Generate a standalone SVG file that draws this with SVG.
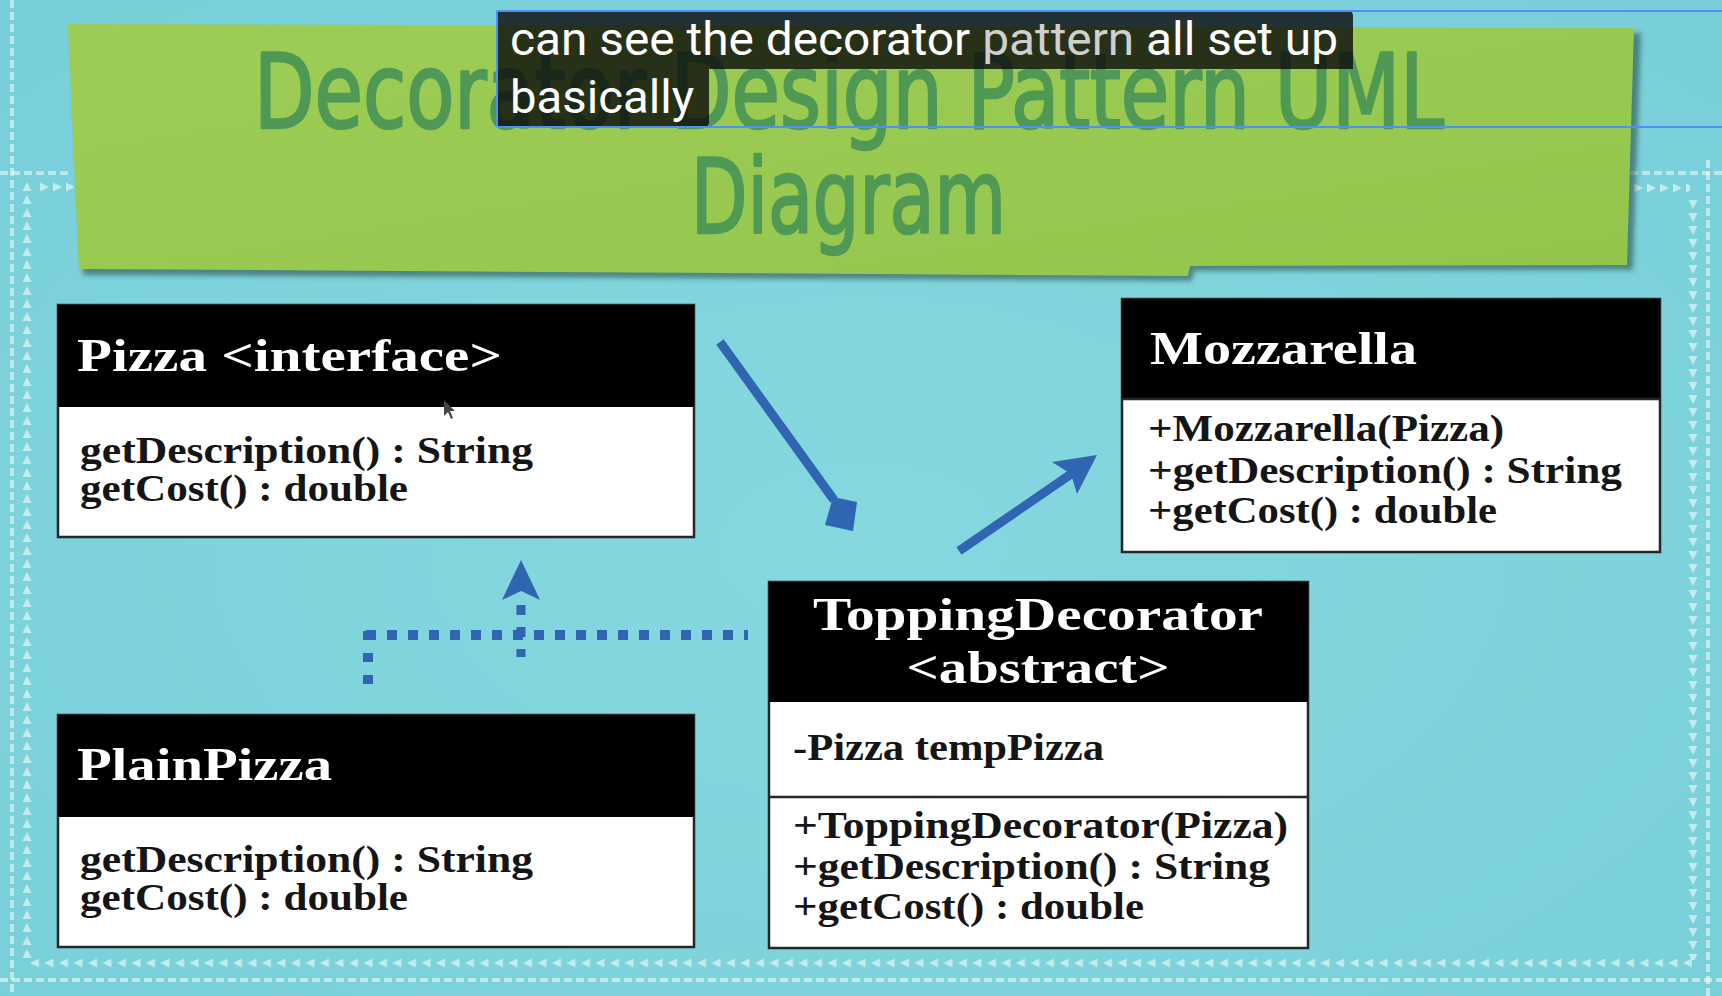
<svg xmlns="http://www.w3.org/2000/svg" width="1722" height="996" viewBox="0 0 1722 996">
  <style>
    .deco { stroke: rgba(255,255,255,0.5); stroke-width: 4; stroke-dasharray: 8 4; fill: none; }
    .hdr { fill: #000; }
    .body { fill: #fff; stroke: #262626; stroke-width: 2.5; }
    .div { stroke: #262626; stroke-width: 2.5; }
    .ht { font-family: "Liberation Serif", "DejaVu Serif", serif; font-weight: bold; font-size: 46px; fill: #fff; }
    .bt { font-family: "Liberation Serif", "DejaVu Serif", serif; font-weight: bold; font-size: 38px; fill: #151515; }
    .title { font-family: "DejaVu Sans Condensed", "DejaVu Sans", sans-serif; font-weight: normal; font-size: 104px; fill: #4f9955; stroke: #4f9955; stroke-width: 2.5; stroke-linejoin: round; }
    .cap { font-family: Roboto, "Noto Sans", sans-serif; font-size: 47px; fill: #fff; }
    .conn { stroke: #2f65b1; fill: none; }
  </style>
  <defs>
    <linearGradient id="green" x1="0" y1="0" x2="1" y2="1">
      <stop offset="0" stop-color="#9ecd56"/>
      <stop offset="1" stop-color="#93c54b"/>
    </linearGradient>
    <radialGradient id="bg" cx="0.5" cy="0.55" r="0.75">
      <stop offset="0" stop-color="#86d8df"/>
      <stop offset="1" stop-color="#78cfd9"/>
    </radialGradient>
    <filter id="blur" x="-5%" y="-10%" width="110%" height="130%">
      <feGaussianBlur stdDeviation="2.5"/>
    </filter>
    <pattern id="tu" patternUnits="userSpaceOnUse" x="22" y="180" width="10" height="13">
      <polygon points="5,2 9.5,11 0.5,11" fill="rgba(255,255,255,0.55)"/>
    </pattern>
    <pattern id="tdn" patternUnits="userSpaceOnUse" x="1688" y="198" width="10" height="13">
      <polygon points="0.5,2 9.5,2 5,11" fill="rgba(255,255,255,0.55)"/>
    </pattern>
    <pattern id="tl" patternUnits="userSpaceOnUse" x="28" y="958" width="14.5" height="10">
      <polygon points="2,5 11,0.5 11,9.5" fill="rgba(255,255,255,0.55)"/>
    </pattern>
    <pattern id="tr1" patternUnits="userSpaceOnUse" x="38" y="182" width="13" height="10">
      <polygon points="2,0.5 11,5 2,9.5" fill="rgba(255,255,255,0.55)"/>
    </pattern>
    <pattern id="tr2" patternUnits="userSpaceOnUse" x="1632" y="183" width="13" height="10">
      <polygon points="2,0.5 11,5 2,9.5" fill="rgba(255,255,255,0.55)"/>
    </pattern>
  </defs>

  <!-- background -->
  <rect x="0" y="0" width="1722" height="996" fill="url(#bg)"/>

  <!-- decorative border -->
  <g id="border">
    <line class="deco" x1="12" y1="0" x2="12" y2="996"/>
    <line class="deco" x1="0" y1="173" x2="72" y2="173"/>
    <line class="deco" x1="1708" y1="160" x2="1708" y2="996"/>
    <line class="deco" x1="1630" y1="173" x2="1722" y2="173"/>
    <line class="deco" x1="0" y1="980" x2="1722" y2="980"/>
    <rect x="22" y="180" width="10" height="780" fill="url(#tu)"/>
    <rect x="1688" y="198" width="10" height="762" fill="url(#tdn)"/>
    <rect x="30" y="958" width="1662" height="10" fill="url(#tl)"/>
    <rect x="38" y="182" width="36" height="10" fill="url(#tr1)"/>
    <rect x="1632" y="183" width="58" height="10" fill="url(#tr2)"/>
  </g>

  <!-- title banner -->
  <g id="banner">
    <polygon points="72,30 1641,33 1633,270 1194,271 1192,281 83,275" fill="rgba(35,70,60,0.55)" filter="url(#blur)"/>
    <polygon points="68,24 1634,28 1627,265 1190,266 1188,276 79,269" fill="url(#green)"/>
    <text class="title" x="254" y="128" textLength="1190" lengthAdjust="spacingAndGlyphs">Decorator Design Pattern UML</text>
    <text class="title" x="691" y="233" textLength="315" lengthAdjust="spacingAndGlyphs">Diagram</text>
  </g>

  <!-- caption overlay -->
  <g id="caption">
    <path d="M497,11 H1348 Q1353,11 1353,16 V69 H709 V122 Q709,127 704,127 H502 Q497,127 497,122 Z" fill="rgba(10,10,10,0.8)"/>
    <text class="cap" x="510" y="55" textLength="828" lengthAdjust="spacingAndGlyphs">can see the decorator <tspan fill="#cfcfcf">pattern</tspan> all set up</text>
    <text class="cap" x="510" y="113" textLength="184" lengthAdjust="spacingAndGlyphs">basically</text>
    <line x1="497" y1="11" x2="1722" y2="11" stroke="#4f8ff7" stroke-width="2"/>
    <line x1="497" y1="127" x2="1722" y2="127" stroke="#4f8ff7" stroke-width="2"/>
    <line x1="497" y1="11" x2="497" y2="127" stroke="#4f8ff7" stroke-width="2"/>
  </g>

  <!-- connectors -->
  <g id="connectors">
    <line class="conn" x1="720" y1="342" x2="834" y2="500" stroke-width="9"/>
    <polygon points="833,497 857,502 853,531 825,525" fill="#2f65b1"/>
    <line class="conn" x1="959" y1="551" x2="1074" y2="472" stroke-width="9"/>
    <polygon points="1097,455 1077,494 1071,474 1052,462" fill="#2f65b1"/>
    <line class="conn" x1="366" y1="635" x2="748" y2="635" stroke-width="10" stroke-dasharray="10 11"/>
    <line class="conn" x1="368" y1="631" x2="368" y2="688" stroke-width="10" stroke-dasharray="9 13"/>
    <line class="conn" x1="521" y1="605" x2="521" y2="657" stroke-width="9" stroke-dasharray="10 12"/>
    <polygon points="521,560 540,600 521,591 502,600" fill="#2f65b1"/>
  </g>

  <!-- Pizza interface -->
  <g id="pizza">
    <rect class="body" x="58" y="305" width="636" height="232"/>
    <rect class="hdr" x="58" y="305" width="636" height="102"/>
    <text class="ht" x="77" y="371" textLength="425" lengthAdjust="spacingAndGlyphs">Pizza &lt;interface&gt;</text>
    <text class="bt" x="80" y="463" textLength="453" lengthAdjust="spacingAndGlyphs">getDescription() : String</text>
    <text class="bt" x="80" y="501" textLength="328" lengthAdjust="spacingAndGlyphs">getCost() : double</text>
    <polygon points="444,400 444,416 448,412 451,419 453,418 450,411 455,411" fill="#444"/>
  </g>

  <!-- PlainPizza -->
  <g id="plainpizza">
    <rect class="body" x="58" y="715" width="636" height="232"/>
    <rect class="hdr" x="58" y="715" width="636" height="102"/>
    <text class="ht" x="77" y="780" textLength="255" lengthAdjust="spacingAndGlyphs">PlainPizza</text>
    <text class="bt" x="80" y="872" textLength="453" lengthAdjust="spacingAndGlyphs">getDescription() : String</text>
    <text class="bt" x="80" y="910" textLength="328" lengthAdjust="spacingAndGlyphs">getCost() : double</text>
  </g>

  <!-- Mozzarella -->
  <g id="mozzarella">
    <rect class="body" x="1122" y="299" width="538" height="253"/>
    <rect class="hdr" x="1122" y="299" width="538" height="99"/>
    <line class="div" x1="1122" y1="399" x2="1660" y2="399"/>
    <text class="ht" x="1150" y="364" textLength="267" lengthAdjust="spacingAndGlyphs">Mozzarella</text>
    <text class="bt" x="1148" y="441" textLength="356" lengthAdjust="spacingAndGlyphs">+Mozzarella(Pizza)</text>
    <text class="bt" x="1148" y="483" textLength="474" lengthAdjust="spacingAndGlyphs">+getDescription() : String</text>
    <text class="bt" x="1148" y="523" textLength="349" lengthAdjust="spacingAndGlyphs">+getCost() : double</text>
  </g>

  <!-- ToppingDecorator -->
  <g id="toppingdecorator">
    <rect class="body" x="769" y="582" width="539" height="366"/>
    <rect class="hdr" x="769" y="582" width="539" height="120"/>
    <line class="div" x1="769" y1="797" x2="1308" y2="797"/>
    <text class="ht" x="1038" y="630" text-anchor="middle" textLength="450" lengthAdjust="spacingAndGlyphs">ToppingDecorator</text>
    <text class="ht" x="1038" y="683" text-anchor="middle" textLength="263" lengthAdjust="spacingAndGlyphs">&lt;abstract&gt;</text>
    <text class="bt" x="793" y="760" textLength="311" lengthAdjust="spacingAndGlyphs">-Pizza tempPizza</text>
    <text class="bt" x="793" y="838" textLength="495" lengthAdjust="spacingAndGlyphs">+ToppingDecorator(Pizza)</text>
    <text class="bt" x="793" y="879" textLength="477" lengthAdjust="spacingAndGlyphs">+getDescription() : String</text>
    <text class="bt" x="793" y="919" textLength="351" lengthAdjust="spacingAndGlyphs">+getCost() : double</text>
  </g>
</svg>
